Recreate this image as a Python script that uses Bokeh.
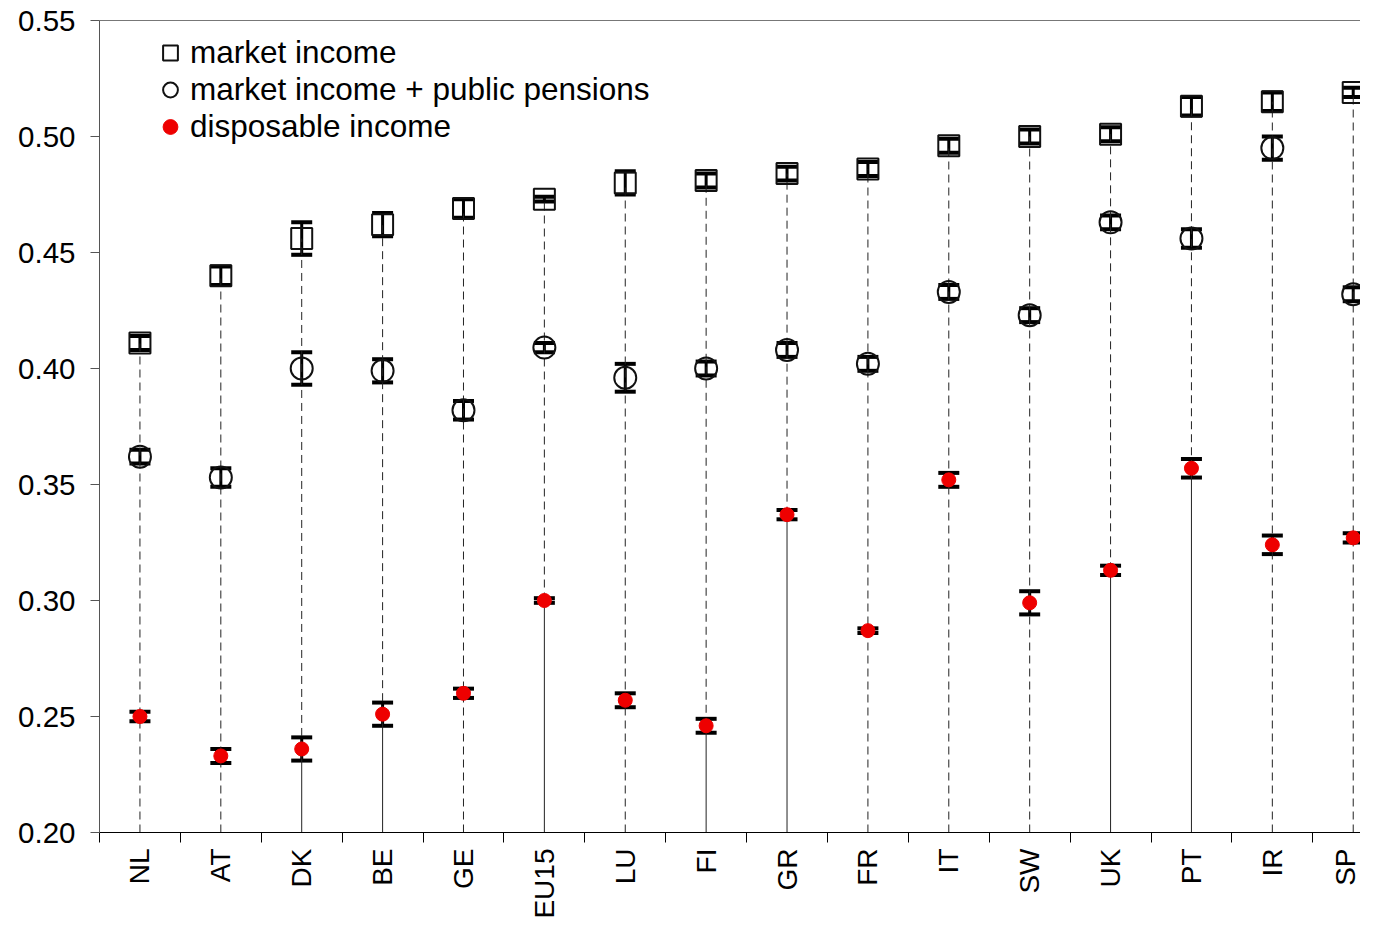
import math
from bokeh.plotting import figure
from bokeh.models import (ColumnDataSource, Range1d, FixedTicker, LinearAxis, Whisker,
                          TeeHead, Legend, LegendItem, PrintfTickFormatter)
from bokeh.embed import file_html
from bokeh.resources import INLINE

countries = ["NL", "AT", "DK", "BE", "GE", "EU15", "LU", "FI", "GR", "FR",
             "IT", "SW", "UK", "PT", "IR", "SP"]
market = [0.411, 0.440, 0.456, 0.462, 0.469, 0.473, 0.480, 0.481, 0.484, 0.486,
          0.496, 0.500, 0.501, 0.513, 0.515, 0.519]
market_err = [0.003, 0.004, 0.007, 0.005, 0.004, 0.001, 0.005, 0.003, 0.003, 0.003,
              0.003, 0.003, 0.003, 0.004, 0.004, 0.002]
pension = [0.362, 0.353, 0.400, 0.399, 0.382, 0.409, 0.396, 0.400, 0.408, 0.402,
           0.433, 0.423, 0.463, 0.456, 0.495, 0.432]
pension_err = [0.003, 0.004, 0.007, 0.005, 0.004, 0.002, 0.006, 0.003, 0.003, 0.003,
               0.003, 0.003, 0.003, 0.004, 0.005, 0.003]
disposable = [0.250, 0.233, 0.236, 0.251, 0.260, 0.300, 0.257, 0.246, 0.337, 0.287,
              0.352, 0.299, 0.313, 0.357, 0.324, 0.327]
disposable_err = [0.002, 0.003, 0.005, 0.005, 0.002, 0.001, 0.003, 0.003, 0.002, 0.001,
                  0.003, 0.005, 0.002, 0.004, 0.004, 0.002]
solid_base = [False, False, True, True, False, True, False, True, True, False,
              False, False, True, True, False, False]
y_ticks = [0.20, 0.25, 0.30, 0.35, 0.40, 0.45, 0.50, 0.55]
y_min, y_max = 0.20, 0.55

FONT = "Liberation Sans"
xs = list(range(len(countries)))

p = figure(width=1360, height=921, output_backend="svg", toolbar_location=None,
           x_range=Range1d(-0.5, 15.09), y_range=Range1d(y_min, y_max),
           min_border_left=99, min_border_top=20, min_border_bottom=84, min_border_right=0)
p.outline_line_color = None
p.xgrid.visible = False
p.ygrid.visible = False
p.background_fill_color = "white"

# vertical guide lines
full_dash = ColumnDataSource(dict(
    x=[x for x, s in zip(xs, solid_base) if not s],
    y0=[y_min for s in solid_base if not s],
    y1=[m for m, s in zip(market, solid_base) if not s]))
low_solid = ColumnDataSource(dict(
    x=[x for x, s in zip(xs, solid_base) if s],
    y0=[y_min for s in solid_base if s],
    y1=[d for d, s in zip(disposable, solid_base) if s]))
up_dash = ColumnDataSource(dict(
    x=[x for x, s in zip(xs, solid_base) if s],
    y0=[d for d, s in zip(disposable, solid_base) if s],
    y1=[m for m, s in zip(market, solid_base) if s]))
p.segment(x0="x", y0="y0", x1="x", y1="y1", source=full_dash, line_color="#222222",
          line_width=1, line_dash="8 5")
p.segment(x0="x", y0="y0", x1="x", y1="y1", source=low_solid, line_color="#222222",
          line_width=1)
p.segment(x0="x", y0="y0", x1="x", y1="y1", source=up_dash, line_color="#222222",
          line_width=1, line_dash="8 5")

sq = p.scatter(xs, market, marker="square", size=21, fill_color=None,
               line_color="#111111", line_width=2)
ci = p.scatter(xs, pension, marker="circle", size=22, fill_color=None,
               line_color="#111111", line_width=2)


def add_whisker(vals, errs):
    src = ColumnDataSource(dict(x=xs, upper=[v + e for v, e in zip(vals, errs)],
                                lower=[v - e for v, e in zip(vals, errs)]))
    w = Whisker(source=src, base="x", upper="upper", lower="lower", dimension="height",
                line_color="black", line_width=3,
                upper_head=TeeHead(size=21, line_width=4, line_color="black"),
                lower_head=TeeHead(size=21, line_width=4, line_color="black"))
    p.add_layout(w)


add_whisker(market, market_err)
add_whisker(pension, pension_err)
add_whisker(disposable, disposable_err)

dot = p.scatter(xs, disposable, marker="circle", size=14, fill_color="#ee0000",
                line_color="#ee0000", level="overlay")

# axes
p.xaxis.ticker = FixedTicker(ticks=xs, minor_ticks=[k - 0.5 for k in range(len(countries) + 1)])
p.xaxis.major_label_overrides = {x: c for x, c in zip(xs, countries)}
p.xaxis.major_tick_out = 0
p.xaxis.major_tick_in = 0
p.xaxis.minor_tick_out = 10
p.xaxis.minor_tick_in = 0
p.xaxis.minor_tick_line_color = "black"
p.xaxis.axis_line_color = "black"
p.xaxis.major_label_orientation = math.pi / 2
p.xaxis.major_label_standoff = 6
p.xaxis.major_label_text_font = FONT
p.xaxis.major_label_text_font_size = "28px"
p.xaxis.major_label_text_color = "black"

p.yaxis.ticker = FixedTicker(ticks=y_ticks, minor_ticks=[])
p.yaxis.formatter = PrintfTickFormatter(format="%.2f")
p.yaxis.major_tick_out = 9
p.yaxis.major_tick_in = 0
p.yaxis.major_tick_line_color = "#555555"
p.yaxis.axis_line_color = "#555555"
p.yaxis.major_label_standoff = 15
p.yaxis.major_label_text_font = FONT
p.yaxis.major_label_text_font_size = "29.5px"
p.yaxis.major_label_text_color = "black"

top = LinearAxis(ticker=FixedTicker(ticks=[]), axis_line_color="#777777",
                 major_label_text_font_size="0px", major_tick_line_color=None,
                 minor_tick_line_color=None, major_label_standoff=0)
p.add_layout(top, "above")

legend = Legend(items=[LegendItem(label="market income", renderers=[sq]),
                       LegendItem(label="market income + public pensions", renderers=[ci]),
                       LegendItem(label="disposable income", renderers=[dot])],
                location=(52, 687), margin=0, padding=0, spacing=0,
                glyph_width=38, glyph_height=37, label_height=37, label_standoff=1,
                label_text_font=FONT, label_text_font_size="31.5px", label_text_color="black",
                border_line_color=None, background_fill_alpha=0)
p.add_layout(legend)

open("out.html", "w").write(file_html(p, INLINE))
